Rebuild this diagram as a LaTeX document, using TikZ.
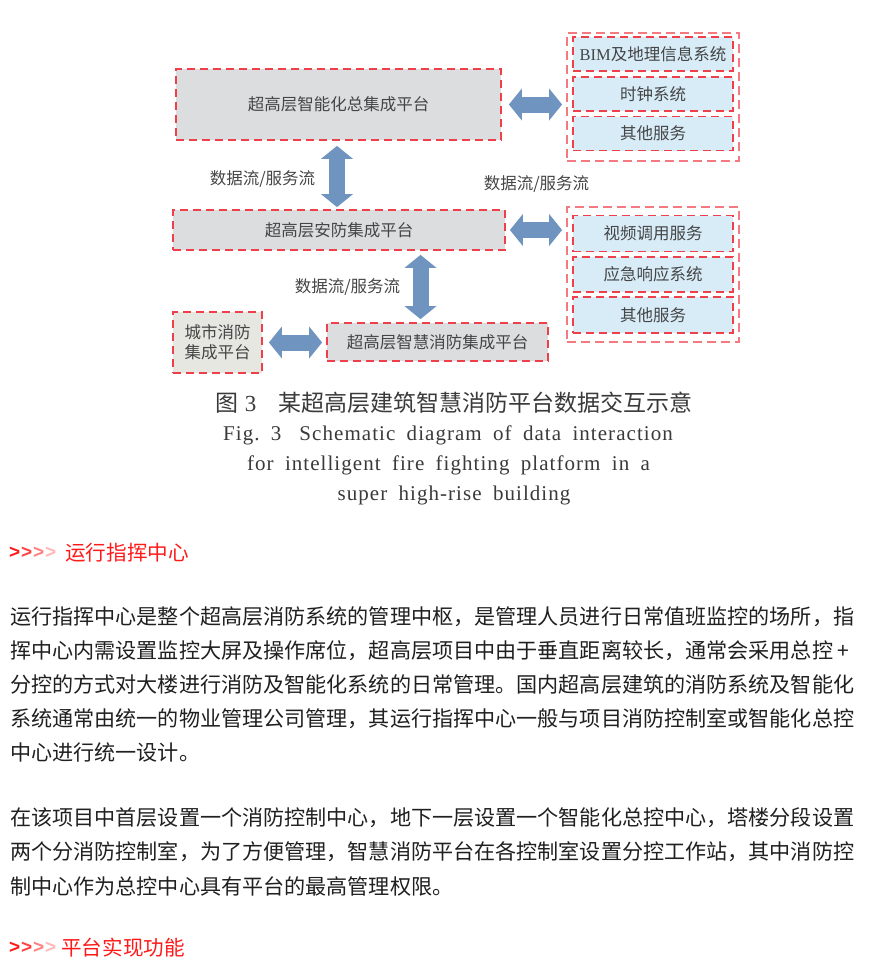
\documentclass[tikz,border=0pt]{standalone}
\usepackage{fontspec}
\setmainfont{Noto Sans CJK SC}
\newfontfamily\ser{Liberation Serif}
\newfontfamily\sansb{Liberation Sans}
\newfontfamily\capen[LetterSpace=5,WordSpace=1.8]{Liberation Serif}
\usetikzlibrary{arrows.meta}
\definecolor{dashred}{HTML}{EE3F4A}
\definecolor{dashpink}{HTML}{F27A80}
\definecolor{boxgray}{HTML}{DCDDDF}
\definecolor{citygray}{HTML}{E7E7E2}
\definecolor{boxblue}{HTML}{D8ECF8}
\definecolor{arrowblue}{HTML}{6F94BF}
\definecolor{dtext}{HTML}{454545}
\definecolor{captext}{HTML}{3A3A3A}
\definecolor{bodytext}{HTML}{202020}
\definecolor{headred}{HTML}{FF1A1A}
\tikzset{
  dgfont/.style={font=\fontsize{16.5}{20}\selectfont},
  mainbox/.style={draw=dashred, line width=1.8pt, dash pattern=on 8pt off 5pt,
    fill=boxgray, inner sep=0pt, text=dtext, dgfont, align=center},
  citybox/.style={mainbox, fill=citygray},
  subbox/.style={mainbox, fill=boxblue, minimum width=160, minimum height=34},
  groupbox/.style={draw=dashpink, line width=1.8pt, dash pattern=on 9pt off 5pt, inner sep=0pt},
  flowlbl/.style={text=dtext, dgfont, inner sep=0pt},
  flowarrow/.style={draw=arrowblue, line width=16pt,
    {Triangle[length=13pt,width=32pt,line width=0pt]}-{Triangle[length=13pt,width=32pt,line width=0pt]}},
  bodyline/.style={anchor=west, inner sep=0pt, text=bodytext, font=\fontsize{21.1}{24}\selectfont},
  headline/.style={anchor=west, inner sep=0pt, text=headred, font=\fontsize{20.6}{24}\selectfont},
  chev/.style={anchor=west, inner sep=0pt, font=\sansb\bfseries\fontsize{19}{20}\selectfont},
  capcn/.style={inner sep=0pt, text=captext, font=\fontsize{23}{26}\selectfont},
  capline/.style={inner sep=0pt, text=captext, font=\capen\fontsize{21}{24}\selectfont}
}
\begin{document}
\begin{tikzpicture}[x=1pt, y=-1pt]
\useasboundingbox[fill=white] (0,0) rectangle (868,972);

% main platform boxes
\node[mainbox, minimum width=325, minimum height=71] (A) at (338.5,104.5) {超高层智能化总集成平台};
\node[mainbox, minimum width=332, minimum height=40] (B) at (339,230) {超高层安防集成平台};
\node[mainbox, minimum width=221, minimum height=38] (C) at (437.5,342) {超高层智慧消防集成平台};
\node[citybox, minimum width=89, minimum height=61] (City) at (217.5,342.5) {城市消防\\集成平台};

% right group 1
\node[groupbox, minimum width=172, minimum height=128] (G1) at (653,97) {};
\node[subbox] (S1) at (653,54) {{\ser BIM}及地理信息系统};
\node[subbox] (S2) at (653,94) {时钟系统};
\node[subbox] (S3) at (653,133.5) {其他服务};

% right group 2
\node[groupbox, minimum width=172, minimum height=135] (G2) at (653,274.5) {};
\node[subbox, minimum height=36] (T1) at (653,233.5) {视频调用服务};
\node[subbox, minimum height=35] (T2) at (653,274.5) {应急响应系统};
\node[subbox, minimum height=36] (T3) at (653,315) {其他服务};

% flow labels
\node[flowlbl] (L1) at (262.5,179) {数据流/服务流};
\node[flowlbl] (L2) at (536.5,184) {数据流/服务流};
\node[flowlbl] (L3) at (347.5,287) {数据流/服务流};

% arrows
\draw[flowarrow, shorten <=5pt, shorten >=2pt] ([xshift=-1.5pt]A.south) -- ([xshift=-1.5pt]A.south |- B.north);
\draw[flowarrow, shorten <=4pt, shorten >=3pt] ([xshift=-17pt]C.north |- B.south) -- ([xshift=-17pt]C.north);
\draw[flowarrow, shorten <=7pt, shorten >=4pt] (A.east) -- (A.east -| G1.west);
\draw[flowarrow, shorten <=4pt, shorten >=4pt] (B.east) -- (B.east -| G2.west);
\draw[flowarrow, shorten <=6pt, shorten >=4pt] (City.east) -- (City.east -| C.west);

% caption
\node[capcn] (cap1) at (454,403) {图\hspace{6pt}{\ser 3}\hspace{22pt}某超高层建筑智慧消防平台数据交互示意};
\node[capline] (cap2) at (448,435) {Fig.\ 3\hspace{18pt}Schematic diagram of data interaction};
\node[capline] (cap3) at (448.5,465) {for intelligent fire fighting platform in a};
\node[capline] (cap4) at (454,495) {super high-rise building};

% heading 1
\node[chev, text=headred] (h1a) at (9,553) {>};
\node[chev, text=red!75!white] (h1b) at (21,553) {>};
\node[chev, text=red!50!white] (h1c) at (33,553) {>};
\node[chev, text=red!28!white] (h1d) at (45,553) {>};
\node[headline] (h1) at (65,553) {运行指挥中心};

% paragraph 1
\node[bodyline] (p1) at (10,617) {运行指挥中心是整个超高层消防系统的管理中枢，是管理人员进行日常值班监控的场所，指};
\node[bodyline] (p2) at (10,651) {挥中心内需设置监控大屏及操作席位，超高层项目中由于垂直距离较长，通常会采用总控 +};
\node[bodyline] (p3) at (10,685) {分控的方式对大楼进行消防及智能化系统的日常管理。国内超高层建筑的消防系统及智能化};
\node[bodyline] (p4) at (10,719) {系统通常由统一的物业管理公司管理，其运行指挥中心一般与项目消防控制室或智能化总控};
\node[bodyline] (p5) at (10,752) {中心进行统一设计。};

% paragraph 2
\node[bodyline] (q1) at (10,818) {在该项目中首层设置一个消防控制中心，地下一层设置一个智能化总控中心，塔楼分段设置};
\node[bodyline] (q2) at (10,852) {两个分消防控制室，为了方便管理，智慧消防平台在各控制室设置分控工作站，其中消防控};
\node[bodyline] (q3) at (10,886) {制中心作为总控中心具有平台的最高管理权限。};

% heading 2
\node[chev, text=headred] (h2a) at (9,948) {>};
\node[chev, text=red!75!white] (h2b) at (21,948) {>};
\node[chev, text=red!50!white] (h2c) at (33,948) {>};
\node[chev, text=red!28!white] (h2d) at (45,948) {>};
\node[headline] (h2) at (61,948) {平台实现功能};
\end{tikzpicture}
\end{document}
